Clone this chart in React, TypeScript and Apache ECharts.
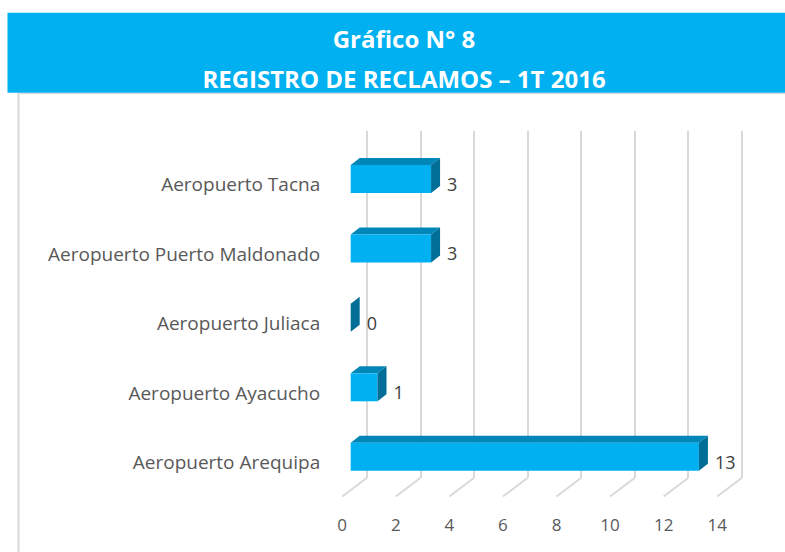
import React, { useEffect, useRef } from "react";
import * as echarts from "echarts";

const titleLine1 = "Gráfico N° 8";
const titleLine2 = "REGISTRO DE RECLAMOS – 1T 2016";
const categories = [
  "Aeropuerto Arequipa",
  "Aeropuerto Ayacucho",
  "Aeropuerto Juliaca",
  "Aeropuerto Puerto Maldonado",
  "Aeropuerto Tacna",
];
const values = [13, 1, 0, 3, 3];
const xTicks = [0, 2, 4, 6, 8, 10, 12, 14];

const FRONT = "#00B0F0";
const TOP = "#0086B7";
const SIDE = "#006E97";
const GRID = "#d9d9d9";

export default function App() {
  const ref = useRef<HTMLDivElement>(null);
  useEffect(() => {
    document.body.style.margin = "0";
    const chart = echarts.init(ref.current!, undefined, { renderer: "svg" });
    const FX = -16; // front face offset from back plane
    const FY = 13.5;
    const DX = 9; // depth of bar
    const DY = -7;
    const BAR_H = 28;
    const option: any = {
      animation: false,
      backgroundColor: "#ffffff",
      grid: [
        { left: 366.7, width: 375, top: 130.7, height: 347.3 },
        { left: 342.2, width: 375, top: 149.5, height: 347.3 },
      ],
      xAxis: [
        {
          gridIndex: 0,
          type: "value",
          min: 0,
          max: 14,
          interval: 2,
          axisLabel: { show: false },
          axisLine: { show: false },
          axisTick: { show: false },
          splitLine: { show: true, lineStyle: { color: GRID, width: 2 } },
        },
        {
          gridIndex: 1,
          type: "value",
          min: 0,
          max: 14,
          interval: 2,
          axisLine: { show: false },
          axisTick: { show: false },
          splitLine: { show: false },
          axisLabel: {
            show: true,
            color: "#595959",
            fontSize: 17,
            fontFamily: "Open Sans",
            margin: 19,
          },
        },
      ],
      yAxis: [
        {
          gridIndex: 0,
          type: "category",
          data: categories,
          show: false,
        },
        {
          gridIndex: 1,
          type: "category",
          data: categories,
          axisLine: { show: false },
          axisTick: { show: false },
          splitLine: { show: false },
          axisLabel: {
            color: "#595959",
            fontSize: 19,
            fontFamily: "Open Sans",
            margin: 22,
          },
        },
      ],
      graphic: [
        {
          type: "rect",
          shape: { x: 7.5, y: 12.7, width: 780, height: 80 },
          style: { fill: "#00B0F0" },
        },
        {
          type: "text",
          x: 404,
          y: 38,
          style: {
            text: titleLine1,
            align: "center",
            verticalAlign: "middle",
            fill: "#ffffff",
            fontFamily: "Open Sans",
            fontWeight: "bold",
            fontSize: 24,
          },
        },
        {
          type: "text",
          x: 404,
          y: 78,
          style: {
            text: titleLine2,
            align: "center",
            verticalAlign: "middle",
            fill: "#ffffff",
            fontFamily: "Open Sans",
            fontWeight: "bold",
            fontSize: 24,
          },
        },
        {
          type: "line",
          shape: { x1: 18.5, y1: 93.5, x2: 785, y2: 93.5 },
          style: { stroke: GRID, lineWidth: 1 },
        },
        {
          type: "line",
          shape: { x1: 18.5, y1: 93, x2: 18.5, y2: 552 },
          style: { stroke: GRID, lineWidth: 2 },
        },
      ],
      series: [
        {
          type: "custom",
          xAxisIndex: 0,
          yAxisIndex: 0,
          data: xTicks.map((t) => [t]),
          encode: { x: 0 },
          renderItem: (params: any, api: any) => {
            const v = api.value(0);
            const p = api.coord([v, 0]);
            const bottom = params.coordSys.y + params.coordSys.height;
            return {
              type: "line",
              shape: { x1: p[0], y1: bottom, x2: p[0] - 24.5, y2: bottom + 18.5 },
              style: { stroke: GRID, lineWidth: 2 },
            };
          },
          silent: true,
          z: 1,
        },
        {
          type: "custom",
          xAxisIndex: 0,
          yAxisIndex: 0,
          data: values.map((v, i) => [v, i]),
          encode: { x: 0, y: 1 },
          renderItem: (params: any, api: any) => {
            const v = api.value(0);
            const c = api.value(1);
            const p0 = api.coord([0, c]);
            const p1 = api.coord([v, c]);
            const xl = p0[0] + FX;
            const xr = p1[0] + FX;
            const yc = p0[1] + FY;
            const yt = yc - BAR_H / 2;
            const yb = yc + BAR_H / 2;
            const children: any[] = [];
            if (xr - xl > 0.1) {
              children.push({
                type: "polygon",
                shape: {
                  points: [
                    [xl, yt],
                    [xr, yt],
                    [xr + DX, yt + DY],
                    [xl + DX, yt + DY],
                  ],
                },
                style: { fill: TOP },
              });
              children.push({
                type: "rect",
                shape: { x: xl, y: yt, width: xr - xl, height: BAR_H },
                style: { fill: FRONT },
              });
            }
            children.push({
              type: "polygon",
              shape: {
                points: [
                  [xr, yt],
                  [xr + DX, yt + DY],
                  [xr + DX, yb + DY],
                  [xr, yb],
                ],
              },
              style: { fill: SIDE },
            });
            children.push({
              type: "text",
              x: xr + 16,
              y: yc + 5,
              style: {
                text: String(v),
                align: "left",
                verticalAlign: "middle",
                fill: "#404040",
                fontSize: 18,
                fontFamily: "Open Sans",
              },
            });
            return { type: "group", children };
          },
          z: 3,
        },
      ],
    };
    chart.setOption(option);
    return () => chart.dispose();
  }, []);
  return <div ref={ref} style={{ width: 785, height: 552 }} />;
}
